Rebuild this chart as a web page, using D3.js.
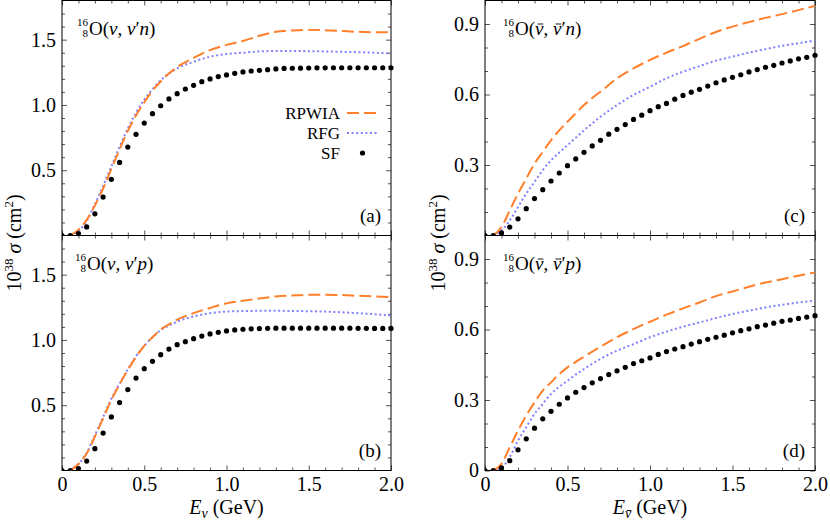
<!DOCTYPE html>
<html>
<head>
<meta charset="utf-8">
<script src="https://cdn.jsdelivr.net/npm/d3@7"></script>
<style>
  html, body { margin: 0; padding: 0; background: #fff; }
  svg { display: block; font-family: 'Liberation Serif', 'DejaVu Serif', serif; }
  .tick text { font-size: 20px; fill: #000; font-family: 'Liberation Serif', serif; }
  .tick line { stroke: #555; }
</style>
</head>
<body>
<script>
'use strict';

// energies (GeV)
const sfEnergies = [0, 0.05, 0.1, 0.15, 0.2, 0.25, 0.3, 0.35, 0.4, 0.45, 0.5, 0.55, 0.6, 0.65, 0.7, 0.75, 0.8, 0.85, 0.9, 0.95,
  1.0, 1.05, 1.1, 1.15, 1.2, 1.25, 1.3, 1.35, 1.4, 1.45, 1.5, 1.55, 1.6, 1.65, 1.7, 1.75, 1.8, 1.85, 1.9, 1.95, 2.0];
const lineEnergies = [0.05, 0.1, 0.15, 0.2, 0.25, 0.3, 0.35, 0.4, 0.45, 0.5, 0.55, 0.6, 0.65, 0.7,
  0.8, 0.9, 1.0, 1.1, 1.2, 1.3, 1.4, 1.5, 1.6, 1.7, 1.8, 1.9, 2.0];

// (a) nu, nu' n
const rpwiaA = [0, 0.045, 0.12, 0.23, 0.36, 0.51, 0.66, 0.80, 0.92, 1.02, 1.11, 1.18, 1.24, 1.29,
  1.36, 1.42, 1.46, 1.49, 1.53, 1.56, 1.57, 1.575, 1.572, 1.566, 1.56, 1.557, 1.556];
const rfgA = [0, 0.035, 0.11, 0.24, 0.38, 0.53, 0.68, 0.82, 0.94, 1.04, 1.12, 1.19, 1.24, 1.28,
  1.33, 1.37, 1.39, 1.40, 1.41, 1.413, 1.413, 1.412, 1.41, 1.407, 1.404, 1.40, 1.395];
const sfA = [0, 0, 0.015, 0.066, 0.166, 0.294, 0.43, 0.56, 0.677, 0.775, 0.861, 0.933, 0.994, 1.046, 1.086, 1.122, 1.150, 1.178, 1.199, 1.217,
  1.230, 1.242, 1.253, 1.260, 1.265, 1.270, 1.276, 1.280, 1.281, 1.282, 1.283, 1.284, 1.284, 1.285, 1.285, 1.285, 1.285, 1.285, 1.285, 1.285, 1.285];

// (b) nu, nu' p
const rpwiaB = [0, 0.05, 0.13, 0.26, 0.40, 0.54, 0.66, 0.77, 0.87, 0.955, 1.02, 1.08, 1.12, 1.155,
  1.205, 1.245, 1.28, 1.30, 1.318, 1.333, 1.341, 1.346, 1.346, 1.344, 1.338, 1.333, 1.328];
const rfgB = [0, 0.05, 0.135, 0.27, 0.41, 0.55, 0.665, 0.775, 0.875, 0.955, 1.02, 1.075, 1.11, 1.14,
  1.18, 1.205, 1.217, 1.221, 1.223, 1.223, 1.222, 1.22, 1.217, 1.212, 1.205, 1.197, 1.187];
const sfB = [0, 0, 0.015, 0.072, 0.167, 0.287, 0.41, 0.52, 0.62, 0.708, 0.78, 0.836, 0.887, 0.93, 0.964, 0.987, 1.01, 1.03, 1.046, 1.058,
  1.069, 1.077, 1.082, 1.085, 1.087, 1.089, 1.09, 1.09, 1.09, 1.09, 1.09, 1.09, 1.09, 1.09, 1.09, 1.09, 1.089, 1.089, 1.088, 1.088, 1.088];

// (c) nubar, nubar' n
const rpwiaC = [0, 0.036, 0.107, 0.178, 0.242, 0.306, 0.356, 0.405, 0.447, 0.484, 0.52, 0.555, 0.585, 0.612,
  0.669, 0.711, 0.747, 0.778, 0.806, 0.837, 0.866, 0.889, 0.908, 0.926, 0.942, 0.959, 0.977];
const rfgC = [0, 0.021, 0.064, 0.121, 0.178, 0.228, 0.278, 0.32, 0.353, 0.384, 0.416, 0.448, 0.477, 0.505,
  0.555, 0.598, 0.633, 0.669, 0.697, 0.721, 0.744, 0.761, 0.778, 0.793, 0.807, 0.818, 0.830];
const sfC = [0, 0, 0.011, 0.036, 0.071, 0.114, 0.157, 0.195, 0.232, 0.266, 0.297, 0.326, 0.354, 0.381, 0.405, 0.431, 0.452, 0.472, 0.494, 0.512,
  0.531, 0.548, 0.562, 0.580, 0.596, 0.610, 0.622, 0.636, 0.650, 0.662, 0.673, 0.684, 0.696, 0.706, 0.716, 0.724, 0.734, 0.743, 0.752, 0.758, 0.767];

// (d) nubar, nubar' p
const rpwiaD = [0, 0.028, 0.099, 0.17, 0.234, 0.29, 0.34, 0.375, 0.41, 0.439, 0.462, 0.484, 0.506, 0.527,
  0.567, 0.602, 0.633, 0.663, 0.69, 0.715, 0.742, 0.762, 0.782, 0.80, 0.814, 0.829, 0.843];
const rfgD = [0, 0.011, 0.057, 0.127, 0.184, 0.241, 0.283, 0.326, 0.356, 0.382, 0.408, 0.432, 0.454, 0.475,
  0.51, 0.538, 0.567, 0.591, 0.612, 0.63, 0.649, 0.666, 0.68, 0.694, 0.705, 0.715, 0.722];
const sfD = [0, 0, 0.011, 0.042, 0.088, 0.135, 0.18, 0.22, 0.252, 0.282, 0.309, 0.333, 0.353, 0.373, 0.391, 0.408, 0.424, 0.439, 0.455, 0.467,
  0.479, 0.494, 0.506, 0.517, 0.527, 0.538, 0.548, 0.558, 0.567, 0.576, 0.586, 0.595, 0.603, 0.612, 0.619, 0.627, 0.635, 0.640, 0.647, 0.653, 0.659];

// ticks
const xMajor = [0, 0.5, 1.0, 1.5, 2.0];
const xMinor = [0.1, 0.2, 0.3, 0.4, 0.6, 0.7, 0.8, 0.9, 1.1, 1.2, 1.3, 1.4, 1.6, 1.7, 1.8, 1.9];
const yMajorNu = [0.5, 1.0, 1.5];
const yMinorNu = [0.1, 0.2, 0.3, 0.4, 0.6, 0.7, 0.8, 0.9, 1.1, 1.2, 1.3, 1.4, 1.6, 1.7];
const yMajorNubarTop = [0.3, 0.6, 0.9];
const yMajorNubarBottom = [0, 0.3, 0.6, 0.9];
const yMinorNubar = [0.1, 0.2, 0.4, 0.5, 0.7, 0.8];

const seriesNames = ['RPWIA', 'RFG', 'SF'];

const W = 830, H = 521;
const colRPWIA = '#ff7f2a';
const colRFG = '#8080ff';

const svg = d3.select('body').append('svg').attr('width', W).attr('height', H);

const panels = [
  { id: 'a', x0: 62, x1: 391, y0: 0.5, y1: 235.5, ymax: 1.8, rpwia: rpwiaA, rfg: rfgA, sf: sfA,
    yMajor: yMajorNu, yMinor: yMinorNu, bar: false, nucl: 'n', xlabels: false, tx: 88, legend: true },
  { id: 'b', x0: 62, x1: 391, y0: 235.5, y1: 470.5, ymax: 1.8, rpwia: rpwiaB, rfg: rfgB, sf: sfB,
    yMajor: yMajorNu, yMinor: yMinorNu, bar: false, nucl: 'p', xlabels: true, tx: 86 },
  { id: 'c', x0: 485, x1: 815, y0: 0.5, y1: 235.5, ymax: 1.0, rpwia: rpwiaC, rfg: rfgC, sf: sfC,
    yMajor: yMajorNubarTop, yMinor: yMinorNubar, bar: true, nucl: 'n', xlabels: false, tx: 514 },
  { id: 'd', x0: 485, x1: 815, y0: 235.5, y1: 470.5, ymax: 1.0, rpwia: rpwiaD, rfg: rfgD, sf: sfD,
    yMajor: yMajorNubarBottom, yMinor: yMinorNubar, bar: true, nucl: 'p', xlabels: true, tx: 514 }
];

const fmt = v => v === 0 ? '0' : d3.format('.1f')(v);

function tickAxis(gen, scale, values, size, labels) {
  return gen(scale).tickValues(values).tickSizeInner(-size).tickSizeOuter(0)
      .tickFormat(labels ? fmt : '');
}

function drawAxis(g, axis) {
  g.call(axis);
  g.attr('font-family', null).attr('font-size', null);
  g.select('.domain').remove();
}

// puts a bar over a tspan (nu bar)
function overbar(parent, tspan, lift) {
  const b = tspan.node().getBBox();
  parent.append('line')
      .attr('x1', b.x + b.width * 0.28).attr('x2', b.x + b.width * 0.92)
      .attr('y1', b.y + lift).attr('y2', b.y + lift)
      .attr('stroke', '#000').attr('stroke-width', 0.9);
}

panels.forEach(p => {
  const x = d3.scaleLinear().domain([0, 2]).range([p.x0, p.x1]);
  const y = d3.scaleLinear().domain([0, p.ymax]).range([p.y1, p.y0]);
  const g = svg.append('g').attr('class', 'panel-' + p.id);

  // ticks, all pointing inward
  const bot = g.append('g').attr('transform', `translate(0,${p.y1})`);
  drawAxis(bot.append('g'), tickAxis(d3.axisBottom, x, xMajor, 5, p.xlabels).tickPadding(6));
  drawAxis(bot.append('g'), tickAxis(d3.axisBottom, x, xMinor, 3, false));
  const top = g.append('g').attr('transform', `translate(0,${p.y0})`);
  drawAxis(top.append('g'), tickAxis(d3.axisTop, x, xMajor, 5, false));
  drawAxis(top.append('g'), tickAxis(d3.axisTop, x, xMinor, 3, false));
  const left = g.append('g').attr('transform', `translate(${p.x0},0)`);
  drawAxis(left.append('g'), tickAxis(d3.axisLeft, y, p.yMajor, 5, true).tickPadding(6));
  drawAxis(left.append('g'), tickAxis(d3.axisLeft, y, p.yMinor, 3, false));
  const right = g.append('g').attr('transform', `translate(${p.x1},0)`);
  drawAxis(right.append('g'), tickAxis(d3.axisRight, y, p.yMajor, 5, false));
  drawAxis(right.append('g'), tickAxis(d3.axisRight, y, p.yMinor, 3, false));

  // frame
  g.append('rect')
      .attr('x', p.x0).attr('y', p.y0)
      .attr('width', p.x1 - p.x0).attr('height', p.y1 - p.y0)
      .attr('fill', 'none').attr('stroke', '#000').attr('stroke-width', 1);

  const clip = 'clip-' + p.id;
  g.append('clipPath').attr('id', clip).append('rect')
      .attr('x', p.x0).attr('y', p.y0 - 3).attr('width', p.x1 - p.x0 + 3).attr('height', p.y1 - p.y0 + 3);
  const plot = g.append('g').attr('clip-path', `url(#${clip})`);

  const line = d3.line()
      .x((d, i) => x(lineEnergies[i]))
      .y(d => y(d))
      .curve(d3.curveMonotoneX);

  plot.append('path').datum(p.rfg)
      .attr('d', line)
      .attr('fill', 'none').attr('stroke', colRFG).attr('stroke-width', 2)
      .attr('stroke-dasharray', '2,2.6');
  plot.append('path').datum(p.rpwia)
      .attr('d', line)
      .attr('fill', 'none').attr('stroke', colRPWIA).attr('stroke-width', 2)
      .attr('stroke-dasharray', '12,5');
  plot.selectAll('circle.sf').data(p.sf).enter().append('circle')
      .attr('class', 'sf')
      .attr('cx', (d, i) => x(sfEnergies[i]))
      .attr('cy', d => y(d))
      .attr('r', 2.6)
      .attr('fill', '#000');

  // reaction title, e.g. 16/8 O(nu, nu' n)
  const ty = p.y0 + 34;
  g.append('text').attr('x', p.tx).attr('y', ty - 9).attr('text-anchor', 'end')
      .attr('font-size', 11).text('16');
  g.append('text').attr('x', p.tx).attr('y', ty + 2).attr('text-anchor', 'end')
      .attr('font-size', 11).text('8');
  const tt = g.append('text').attr('x', p.tx + 1).attr('y', ty).attr('font-size', 19);
  tt.append('tspan').text('O(');
  const nu1 = tt.append('tspan').attr('font-style', 'italic').text('ν');
  tt.append('tspan').text(', ');
  const nu2 = tt.append('tspan').attr('font-style', 'italic').text('ν');
  tt.append('tspan').text('′');
  tt.append('tspan').attr('font-style', 'italic').text(p.nucl);
  tt.append('tspan').text(')');
  if (p.bar) {
    overbar(g, nu1, 6.5);
    overbar(g, nu2, 6.5);
  }

  // panel tag
  g.append('text')
      .attr('x', p.x1 - 10).attr('y', p.y1 - 14)
      .attr('text-anchor', 'end').attr('font-size', 19)
      .text(`(${p.id})`);

  if (p.legend) {
    const lx = 340, lineX0 = 347, lineX1 = 378;
    const rows = [113, 133, 153];
    seriesNames.forEach((name, i) => {
      g.append('text').attr('x', lx).attr('y', rows[i] + 5.5)
          .attr('text-anchor', 'end').attr('font-size', 17).text(name);
    });
    g.append('line').attr('x1', lineX0).attr('x2', lineX1).attr('y1', rows[0]).attr('y2', rows[0])
        .attr('stroke', colRPWIA).attr('stroke-width', 2).attr('stroke-dasharray', '12,5');
    g.append('line').attr('x1', lineX0).attr('x2', lineX1).attr('y1', rows[1]).attr('y2', rows[1])
        .attr('stroke', colRFG).attr('stroke-width', 2).attr('stroke-dasharray', '2,2.6');
    g.append('circle').attr('cx', (lineX0 + lineX1) / 2).attr('cy', rows[2]).attr('r', 2.6).attr('fill', '#000');
  }

  // x axis title
  if (p.xlabels) {
    const xt = svg.append('text')
        .attr('x', (p.x0 + p.x1) / 2).attr('y', 514)
        .attr('text-anchor', 'middle').attr('font-size', 20);
    xt.append('tspan').attr('font-style', 'italic').text('E');
    const sub = xt.append('tspan').attr('font-style', 'italic').attr('font-size', 14).attr('dy', 4).text('ν');
    xt.append('tspan').attr('dy', -4).text(' (GeV)');
    if (p.bar) overbar(svg, sub, 4.5);
  }
});

// y axis titles
[{ x: 21 }, { x: 445 }].forEach(a => {
  const t = svg.append('text')
      .attr('transform', `translate(${a.x},243) rotate(-90)`)
      .attr('text-anchor', 'middle').attr('font-size', 20);
  t.append('tspan').text('10');
  t.append('tspan').attr('font-size', 13).attr('dy', -8).text('38');
  t.append('tspan').attr('dy', 8).text(' ');
  t.append('tspan').attr('font-style', 'italic').text('σ');
  t.append('tspan').text(' (cm');
  t.append('tspan').attr('font-size', 13).attr('dy', -8).text('2');
  t.append('tspan').attr('dy', 8).text(')');
});
</script>
</body>
</html>
